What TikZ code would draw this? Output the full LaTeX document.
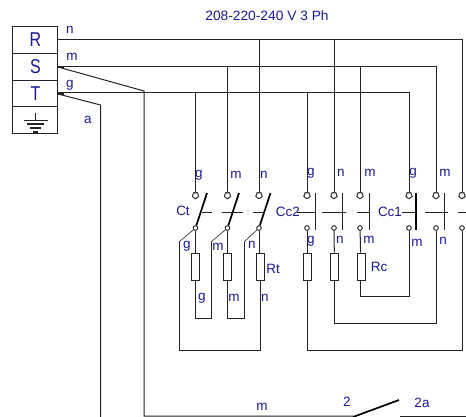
\documentclass[tikz,border=0pt]{standalone}
\usepackage{fontspec}
\setmainfont{Liberation Sans}
\usetikzlibrary{shapes.geometric}
\definecolor{lbl}{RGB}{25,25,150}
\definecolor{wire}{RGB}{35,35,35}
\tikzset{
  x=1pt,y=-1pt,
  wirepath/.style={draw=wire,line width=1pt},
  heavy/.style={draw=black,line width=1.7pt},
  thin wire/.style={draw=wire,line width=0.6pt},
  txt/.style={text=lbl,inner sep=0pt,font=\fontsize{13.5}{14}\selectfont},
  big/.style={text=lbl,inner sep=0pt,xscale=.8,font=\fontsize{20}{21}\selectfont},
  termtop/.style={draw=wire,line width=.8pt,fill=white,regular polygon,regular polygon sides=5,shape border rotate=180,inner sep=0pt,minimum size=6.5pt},
  termbot/.style={draw=wire,line width=.8pt,fill=white,circle,inner sep=0pt,minimum size=4.5pt},
  res/.style={draw=wire,line width=1pt,fill=white,inner sep=0pt,minimum width=8pt,minimum height=27pt},
  cell/.style={draw=wire,line width=1pt,minimum width=45pt,minimum height=26.7pt,inner sep=0pt},
}
\begin{document}
\begin{tikzpicture}
\useasboundingbox (0,0) rectangle (466,417);
% terminal block
\node[cell] (R) at (35,40) {};
\node[cell] (S) at (35,66.7) {};
\node[cell] (T) at (35,93.4) {};
\node[cell] (E) at (35,120.1) {};
\node[big] at (35.5,40) {R};
\node[big] at (35.5,67) {S};
\node[big] at (35.5,94) {T};
\draw[wirepath] (35.5,113) -- (35.5,120);
\draw[wirepath,line width=1.5pt] (24,120.5) -- (48,120.5);
\draw[wirepath,line width=1.4pt] (27,124) -- (44,124);
\draw[wirepath,line width=1.4pt] (30,128) -- (41,128);
\draw[wirepath,line width=1.4pt] (33,132) -- (38,132);
% coordinates
\coordinate (nEnd) at (462,40);
\coordinate (mEnd) at (436,66.5);
\coordinate (gEnd) at (409,93);
% terminals
\foreach \nm/\xx in {a/195.5,b/227.5,c/259,d/307,e/334,f/360,h/409,i/436,j/462}{
  \node[termtop] (top\nm) at (\xx,195.5) {};
  \node[termbot] (bot\nm) at (\xx,228) {};
}
% resistors
\foreach \nm/\xx in {a/195.5,b/227.5,c/260,d/307,e/334.5,f/361}{
  \node[res] (res\nm) at (\xx,266.5) {};
}
% main bus wires
\draw[wirepath] (R.east) -- (nEnd) -- (topj);
\draw[wirepath] (58,66.5) -- (mEnd) -- (topi);
\draw[wirepath] (58,93) -- (gEnd) -- (toph);
\draw[wirepath] (227.5,66.5) -- (topb);
\draw[wirepath] (195.5,93) -- (topa);
\draw[wirepath] (259,40) -- (topc);
\draw[wirepath] (307,93) -- (topd);
\draw[wirepath] (334,40) -- (tope);
\draw[wirepath] (360,66.5) -- (topf);
% diagonal tails
\coordinate (sBend) at (144,91);
\coordinate (tBend) at (100.5,105);
\draw[wirepath] (58,67) -- (sBend) -- (144,416) -- (353,416);
\draw[wirepath] (58,94) -- (tBend) -- (100.5,417);
\draw[wirepath,line width=1.7pt] (58,67) -- (64,67);
\draw[wirepath,line width=1.7pt] (58,94) -- (64,94);
% aux switch
\coordinate (sw2a) at (353,417);
\coordinate (sw2b) at (399,400);
\draw[heavy] (sw2a) -- (sw2b);
\draw[wirepath] (400,416) -- (466,416);
% Ct switches
\foreach \nm/\ss/\se in {a/202/212,b/222/243,c/253/265}{
  \draw[heavy] (bot\nm) -- ++(11.5,-35);
  \draw[wirepath] (\ss,212) -- (\se,212);
  \draw[wirepath] (bot\nm) -- (res\nm.north -| bot\nm);
}
% Ct loops
\draw[thin wire] (bota) -- (179,242);
\draw[wirepath] (179,242) -- (179,350) -- (260,350) -- (resc);
\draw[wirepath] (resa) -- (195.5,318) -- (211,318) -- (211,242);
\draw[thin wire] (211,242) -- (botb);
\draw[wirepath] (resb) -- (227.5,318) -- (244,318) -- (244,242);
\draw[thin wire] (244,242) -- (botc);
% Cc contacts
\foreach \xb/\ss/\se in {315/297/315,342/322/346,369/357/369,444/425/448}{
  \draw[wirepath] (\xb,193) -- (\xb,230);
  \draw[wirepath] (\ss,212) -- (\se,212);
}
\draw[line width=2.6pt,draw=black] (416,193) -- (416,230);
\draw[wirepath] (402,212) -- (416,212);
\draw[wirepath] (458,212) -- (466,212);
% Cc loops
\draw[wirepath] (botd) -- (resd);
\draw[wirepath] (bote) -- (rese);
\draw[wirepath] (botf) -- (resf);
\draw[wirepath] (360,280) -- (360,296) -- (409,296) -- (both);
\draw[wirepath] (334,280) -- (334,323) -- (436,323) -- (boti);
\draw[wirepath] (307,280) -- (307,350) -- (462,350) -- (botj);
% redraw resistors and terminals over wires
\foreach \xx in {195.5,227.5,260,307,334.5,361}{
  \node[res] at (\xx,266.5) {};
}
\foreach \nm in {a,b,c,d,e,f,h,i,j}{
  \node[termtop] at (top\nm) {};
  \node[termbot] at (bot\nm) {};
}
% labels
\node[txt,xscale=1.02] at (267,16) {208-220-240 V 3 Ph};
\foreach \t/\xx/\yy in {n/70/30,m/72/57,g/70/85,a/88/120,
  g/199/175,m/236/175,n/264/175,Ct/183/211,Cc2/288/212,g/187/246,m/218/247,n/252/245,
  Rt/273/269,g/202/298,m/234/298,n/265/298,
  g/311/173,n/341/173,m/370/173,g/413/173,m/445/173,Cc1/390/212,
  g/311/241,n/340/240,m/369/240,m/417/243,n/443/241,Rc/379/267,
  m/262/407,2/347/402,2a/422/403}{
  \node[txt] at (\xx,\yy) {\t};
}
\end{tikzpicture}
\end{document}
